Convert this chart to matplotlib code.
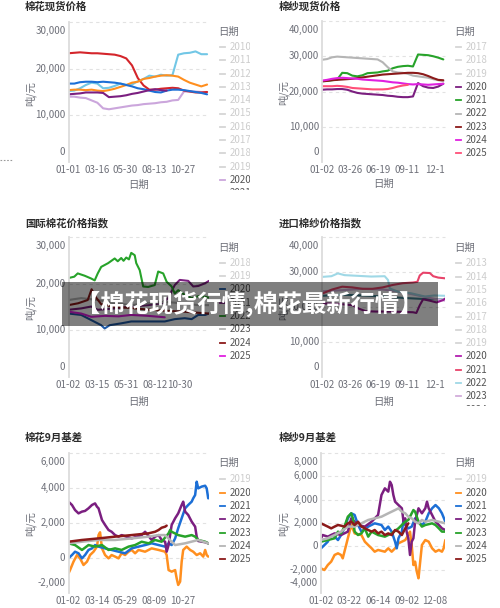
import numpy as np
import matplotlib
matplotlib.use("Agg")
import matplotlib.pyplot as plt
from matplotlib.lines import Line2D
from matplotlib.patches import Rectangle
from matplotlib.transforms import Bbox, TransformedBbox

plt.rcParams['font.family'] = ['Noto Sans CJK SC', 'DejaVu Sans']

# ------------------------------------------------------------------ data
# Panel 1: 棉花现货价格 (days of year, yuan/ton)
p1_days = [0, 15, 30, 45, 60, 75, 90, 105, 120, 135, 150, 165, 180, 195, 210, 225,
           240, 255, 270, 285, 300, 315, 330, 345, 360]
p1_2020 = [14000, 14000, 13800, 13700, 13200, 12700, 11500, 11300, 11500, 11700, 11900, 12100,
           12200, 12400, 12500, 12600, 12800, 12900, 13200, 13300, 15100, 15100, 15100, 15000, 15000]
p1_2021 = [15200, 15300, 15800, 16500, 17000, 16800, 15800, 15900, 16300, 16800, 16500, 16600,
           17300, 17800, 18500, 18300, 18700, 18500, 18600, 23000, 23300, 23400, 23700, 23100, 23100]
p1_2022 = [23300, 23400, 23500, 23400, 23300, 23300, 23200, 23100, 23000, 22700, 22200, 20700,
           18000, 16400, 15500, 15500, 15700, 15800, 15900, 15800, 15300, 15100, 14900, 14900, 15000]
p1_2023 = [15400, 15500, 15500, 15400, 15500, 15300, 15200, 15400, 15700, 16100, 16500, 17000,
           17200, 17800, 18000, 18300, 18500, 18600, 18500, 18300, 17600, 17000, 16600, 16200, 16600]
p1_2024 = [16800, 16800, 17100, 17200, 17200, 17100, 17200, 17100, 17000, 16800, 16500, 16200,
           15800, 15600, 15300, 15000, 14900, 15300, 15500, 15500, 15400, 15200, 15000, 14800, 14500]
p1_2025 = [14500, 14600, 14700, 14900, 14900, 14900, 14800, 13900, 14000, 14100, 14300, 14600,
           14800, 15100, 15400, 15600, 15400, 15300]

# Panel 2: 棉纱现货价格
p2_days = p1_days
p2_2020 = [20500, 20600, 20600, 20700, 20700, 20500, 20000, 19600, 19400, 19300, 19200, 19100,
           19000, 18800, 18700, 18500, 18400, 18400, 18600, 22400, 21500, 21100, 21000, 21400, 22200]
p2_2021 = [22900, 23000, 23200, 23400, 25300, 25200, 24500, 24300, 24600, 25200, 25300, 25400,
           25700, 25900, 26600, 27000, 27200, 27300, 27100, 30500, 30400, 30300, 30000, 29600, 29100]
p2_2022 = [29000, 29200, 29700, 29900, 29800, 29700, 29600, 29500, 29400, 29300, 29200, 29100,
           28300, 26900, 25700, 25400, 25300, 25000, 24500, 24300, 24100, 23900, 23500, 23200, 22900]
p2_2023 = [22900, 23000, 23200, 23300, 23400, 23500, 23600, 23800, 24000, 24200, 24400, 24600,
           24800, 24900, 25000, 25100, 25200, 25300, 25300, 25200, 24900, 24400, 23800, 23300, 23200]
p2_2024 = [23100, 23300, 23600, 23800, 23900, 23800, 23700, 23600, 23400, 23300, 23200, 23100,
           23000, 22800, 22600, 22500, 22300, 22100, 22000, 22100, 22000, 21900, 22000, 22100, 22200]
p2_2025 = [21500, 21500, 21500, 21600, 21500, 21300, 21000, 20900, 20800, 20700, 20600, 20600,
           20600, 20700, 21000, 21400, 21700, 21900]

# Panel 3: 国际棉花价格指数
p3_2020_d = [0, 33, 59, 85, 94, 107, 137, 163, 207, 250, 276, 302, 320, 337, 355, 365]
p3_2020_v = [13600, 13300, 12200, 11100, 10400, 11100, 11500, 11900, 11900, 11900, 12400, 12600,
             12400, 13300, 13300, 13600]
p3_2021_d = [0, 33, 59, 76, 120, 163, 207, 242, 259, 276, 289, 311, 324, 337, 355, 365]
p3_2021_v = [14400, 14700, 15100, 14400, 14700, 15100, 15400, 15800, 16900, 19700, 20800, 20600,
             19400, 19500, 20100, 20600]
p3_2022_d = [0, 15, 24, 42, 59, 68, 76, 85, 103, 120, 128, 137, 143, 150, 157, 163, 172, 176, 185,
             194, 207, 224, 233, 246, 255, 268, 276, 285, 302, 320, 337, 355, 365]
p3_2022_v = [21200, 21500, 22200, 21700, 21100, 20700, 22200, 23600, 24400, 25400, 24800, 25500,
             24900, 25600, 25200, 26600, 26100, 24400, 22900, 19400, 19300, 19700, 22600, 22200,
             20400, 19400, 17900, 18600, 17600, 16900, 17300, 17200, 17000]
p3_2023_d = [0, 33, 76, 120, 163, 207, 250, 294, 337, 365]
p3_2023_v = [16500, 16900, 16500, 15800, 15400, 15800, 16100, 15800, 15400, 15400]
p3_2024_d = [0, 25, 50, 60, 70, 85, 120, 160, 200, 250, 300, 330, 365]
p3_2024_v = [15400, 15800, 16500, 18800, 17200, 15600, 15000, 14800, 14500, 14200, 14000, 13800, 13600]
p3_2025_d = [0, 33, 59, 94, 130, 163, 207, 250]
p3_2025_v = [14000, 13600, 12900, 13100, 13000, 13300, 13100, 12800]

# Panel 4: 进口棉纱价格指数
p4_2020_d = [0, 30, 60, 90, 110, 130, 160, 200, 240, 270, 280, 290, 300, 320, 340, 360, 365]
p4_2020_v = [21000, 21000, 20800, 20500, 19500, 18800, 18700, 18700, 18600, 18500, 18300, 20500,
             22200, 21800, 21300, 22000, 22400]
p4_2021_d = [0, 30, 60, 90, 120, 150, 180, 210, 240, 270, 283, 290, 300, 320, 330, 345, 365]
p4_2021_v = [23800, 25000, 25800, 25600, 25200, 25200, 25600, 26300, 26800, 27000, 27200, 29000,
             29800, 29700, 28800, 28400, 28200]
p4_2022_d = [0, 28, 47, 67, 107, 146, 186, 196, 201, 225, 265, 305, 334, 365]
p4_2022_v = [28600, 28800, 29600, 29100, 28900, 28700, 28800, 27700, 25300, 24400, 23900, 23000,
             23300, 23200]
p4_2023_d = [0, 60, 120, 180, 220, 260, 300, 340, 365]
p4_2023_v = [24500, 24800, 25200, 25000, 24500, 23800, 23000, 22200, 21800]
p4_2024_d = [0, 60, 120, 180, 240, 300, 365]
p4_2024_v = [23200, 23500, 23300, 23000, 22600, 22300, 22100]

# Panel 5: 棉花9月基差
p5_2020_d = [0, 4, 13, 22, 30, 39, 48, 56, 65, 74, 78, 82, 87, 95, 104, 112, 121, 130, 138, 147,
             156, 164, 173, 182, 199, 216, 234, 251, 255, 260, 268, 277, 281, 285, 290, 294, 298,
             307, 316, 324, 333, 342, 350, 355, 359, 363]
p5_2020_v = [-880, -690, -210, 170, -20, -400, -210, 170, 360, 650, 1310, 1470, 550, 170, -20, 170,
             80, -20, 270, 170, 360, 460, 270, 460, 360, 550, 460, 360, 170, -690, -780, -690,
             -1160, -1540, -1350, -210, 460, 650, 460, 360, 170, 270, 80, 460, 170, 80]
p5_2021_d = [0, 9, 17, 26, 35, 43, 52, 61, 69, 78, 95, 112, 130, 147, 164, 182, 199, 216, 234,
             251, 260, 268, 277, 285, 294, 303, 311, 320, 324, 329, 333, 337, 346, 355, 359, 363]
p5_2021_v = [-20, 170, 360, 270, -20, 170, 460, 550, 740, 650, 550, 460, 360, 270, 550, 650, 740,
             840, 740, 650, 840, 740, 1120, 1700, 2270, 2840, 3030, 3220, 3410, 3600, 4360, 3980,
             4080, 4130, 3980, 3410]
p5_2022_d = [0, 9, 17, 26, 35, 43, 52, 61, 69, 74, 78, 87, 95, 104, 112, 121, 130, 138, 164, 190,
             199, 216, 225, 234, 242, 251, 255, 260, 268, 277, 285, 294, 298, 303, 311, 320, 329,
             333, 337, 355, 363]
p5_2022_v = [3220, 3030, 2740, 2550, 2650, 2690, 2840, 3030, 3120, 2930, 2840, 2170, 1890, 1600,
             1500, 1310, 1220, 1310, 1120, 1310, 1500, 1030, 1220, 1310, 1030, 930, 360, 740, 1890,
             2270, 2550, 3030, 3220, 2650, 2460, 2080, 1790, 1220, 970, 900, 840]
p5_2023_d = [0, 17, 35, 52, 69, 87, 104, 121, 138, 156, 173, 190, 208, 225, 242, 260, 264, 268,
             285, 303, 320, 329, 337, 355, 363]
p5_2023_v = [840, 740, 460, 740, 650, 740, 460, 550, 460, 650, 740, 930, 840, 1030, 930, 1410,
             1600, 1500, 1310, 1220, 1310, 1220, 1030, 930, 840]
p5_2024_d = [0, 35, 78, 121, 164, 208, 234, 251, 268, 277, 303, 337, 355, 363]
p5_2024_v = [840, 930, 1030, 1030, 1120, 1220, 1310, 1310, 930, 740, 840, 1030, 900, 840]
p5_2025_d = [0, 35, 78, 121, 164, 208, 225, 234, 242, 251, 255]
p5_2025_v = [930, 1030, 1120, 1220, 1310, 1410, 1500, 1600, 1730, 1790, 1850]

# Panel 6: 棉纱9月基差
p6_2020_d = [0, 10, 20, 30, 40, 50, 59, 64, 69, 74, 79, 84, 89, 99, 119, 129, 139, 149, 158, 168,
             188, 198, 208, 218, 228, 238, 248, 257, 262, 267, 272, 277, 282, 287, 292, 297, 307,
             317, 327, 337, 347, 356, 361, 366]
p6_2020_v = [-1890, -2030, -1600, -1310, -740, -600, -740, -1030, -460, 110, 690, 1260, 1830,
             1110, 970, 400, 110, -170, -460, -310, -460, -170, -460, -170, 260, 400, 540, 970,
             1260, 110, -1600, -1310, -2170, -2740, -1310, 110, 540, 400, -170, -460, -310, -460,
             -170, 540]
p6_2021_d = [0, 10, 20, 30, 40, 50, 59, 69, 79, 89, 99, 109, 119, 139, 158, 178, 188, 198, 208,
             218, 223, 228, 238, 243, 248, 257, 267, 277, 287, 297, 307, 317, 327, 337, 347, 356, 366]
p6_2021_v = [-170, 110, 400, 970, 830, 540, 970, 1540, 2400, 2830, 2690, 1830, 1260, 1690, 1970,
             1830, 1400, 1690, 1260, 400, -170, 690, 1260, 2260, 1830, 1540, 1690, 2400, 2110,
             1830, 2110, 2830, 3260, 3540, 3260, 2830, 2110]
p6_2022_d = [0, 5, 20, 40, 59, 79, 89, 99, 109, 129, 149, 168, 178, 188, 198, 203, 208, 213, 218,
             228, 238, 243, 248, 252, 257, 262, 267, 272, 277, 287, 297, 307, 312, 317, 327, 337,
             347, 356, 366]
p6_2022_v = [690, 970, 830, 1110, 970, 1260, 2400, 2110, 1830, 1690, 2110, 2690, 4400, 4970, 4690,
             5540, 5260, 4400, 3830, 3540, 3260, 2110, 2400, 1260, 690, -740, 400, 690, 2110,
             3260, 2830, 3260, 3830, 3260, 2690, 2110, 1830, 1540, 1400]
p6_2023_d = [0, 20, 40, 50, 59, 69, 79, 89, 94, 99, 109, 119, 129, 139, 149, 168, 188, 208, 228,
             238, 248, 257, 267, 272, 277, 287, 297, 307, 327, 337, 347, 356, 366]
p6_2023_v = [400, 540, 690, 1260, 1110, 1690, 2540, 2830, 2400, 1260, 970, 1110, 1540, 830, 1260,
             970, 830, 1110, 1540, 1830, 2110, 2260, 2830, 3110, 2970, 2110, 1690, 1830, 1970,
             1830, 1540, 1260, 1260]
p6_2024_d = [0, 20, 40, 59, 79, 99, 119, 139, 158, 178, 198, 218, 228, 238, 248, 257, 267, 277,
             287, 297, 307, 327, 347, 366]
p6_2024_v = [540, 690, 970, 1260, 1690, 1690, 1970, 2260, 2400, 2540, 2830, 3110, 3260, 2970,
             2830, 2540, 2400, 2110, 1970, 2260, 2110, 2260, 2110, 1970]
p6_2025_d = [0, 10, 20, 30, 40, 50, 59, 69, 79, 89, 99, 109, 119, 129, 139, 149, 158, 168, 178,
             188, 198, 208, 218, 228, 238, 248, 257]
p6_2025_v = [1970, 1830, 1690, 1540, 1690, 1830, 1770, 1690, 1970, 2110, 1830, 2110, 1690, 1540,
             1400, 1260, 1400, 1110, 1260, 970, 1110, 970, 1400, 1260, 970, 1540, 1970]

# tick labels
x_ticks_a = [0, 74, 148, 222, 296]
x_ticks_b = [1, 84, 168, 252, 336]
p1_xlabels = ['01-01', '03-16', '05-30', '08-13', '10-27']
p2_xlabels = ['01-02', '03-26', '06-19', '09-11', '12-1']
p3_xlabels = ['01-02', '03-15', '05-31', '08-12', '10-30']
p4_xlabels = ['01-02', '03-26', '06-19', '09-11', '12-1']
p5_xlabels = ['01-02', '03-14', '05-29', '08-09', '10-27']
p6_xlabels = ['01-02', '03-22', '06-14', '09-02', '12-08']

# ------------------------------------------------------------------ colours
C_RED = '#d4252b'; C_CYAN = '#72c7e6'; C_ORANGE = '#ff8f1f'; C_BLUE = '#1c6fd6'
C_PURPLE = '#7b1f80'; C_LAV = '#cba6dc'; C_GREEN = '#27a32a'; C_GRAY = '#b5b5b5'
C_DRED = '#8b1a1a'; C_MAG = '#e020e0'; C_PINK = '#ff4f78'; C_DBLUE = '#1f5aa6'
C_CRIMSON = '#e8436a'; C_LCYAN = '#9fd8e6'; C_LLAV = '#d2addb'; C_TEAL = '#3f7f8e'
C_VIOLET = '#93198f'

W, H = 500, 608
fig = plt.figure(figsize=(W / 100, H / 100), dpi=100)
fig.patch.set_facecolor('white')


def fx(px):
    return px / W


def fy(py):
    return 1 - py / H


TICK_C = '#6E7079'


def make_axes(l, r, t, b):
    return fig.add_axes([fx(l), fy(b), (r - l) / W, (b - t) / H])


def style(ax, ylim, yticks, xticks, xlabels):
    ax.set_xlim(0, 365)
    ax.set_ylim(*ylim)
    ax.set_facecolor('none')
    for s in ('top', 'right', 'bottom'):
        ax.spines[s].set_visible(False)
    ax.spines['left'].set_color('#dcdcdc')
    ax.spines['left'].set_linewidth(1.3)
    ax.set_yticks([])
    n = len(yticks)
    for i, v in enumerate(yticks):
        if i > 0:
            ax.axhline(v, color='#e2e2e2', lw=0.8, ls=(0, (3, 3)), zorder=0, clip_on=False)
        dy = 10 if i == 0 else (-8.5 if i == n - 1 else 0)
        ax.annotate(f'{v:,}', xy=(0, v), xycoords=('axes fraction', 'data'),
                    xytext=(-3, dy), textcoords='offset pixels', ha='right', va='center',
                    fontsize=7, color=TICK_C, annotation_clip=False)
    ax.set_xticks(xticks)
    ax.set_xticklabels(xlabels)
    ax.tick_params(axis='x', length=0, pad=2.5, labelsize=7, labelcolor=TICK_C)


def line(ax, d, v, c, lw=1.5):
    ax.plot(d, v, color=c, lw=lw, solid_joinstyle='round', solid_capstyle='round')


def legend(xt, yt, xd, xtext, y0, entries, clip_right=None, clip_bottom=None):
    fig.text(fx(xt), fy(yt), '日期', fontsize=7.5, color=TICK_C, ha='left', va='center')
    bb = None
    if clip_right or clip_bottom:
        bb = TransformedBbox(Bbox([[0, fy(clip_bottom or H)], [fx(clip_right or W), 1]]),
                             fig.transFigure)
    for i, (lab, col) in enumerate(entries):
        y = y0 + i * 13.3
        dc = col if col else '#d6d6d6'
        tc = '#555555' if col else '#cdcdcd'
        ln = Line2D([fx(xd), fx(xd + 5)], [fy(y), fy(y)], transform=fig.transFigure,
                    color=dc, lw=1.3)
        fig.add_artist(ln)
        t = fig.text(fx(xtext), fy(y), lab, fontsize=7, color=tc, ha='left', va='center')
        if bb is not None:
            t.set_clip_box(bb); t.set_clip_on(True)
            ln.set_clip_box(bb); ln.set_clip_on(True)


def title(x, y, s):
    fig.text(fx(x), fy(y), s, fontsize=7.5, fontweight='bold', color='#2b2b2b',
             ha='left', va='center')


def ylab(x, y):
    fig.text(fx(x), fy(y), '吨/元', fontsize=7.5, color=TICK_C, rotation=90,
             ha='center', va='center')


def xlab(x, y):
    fig.text(fx(x), fy(y), '日期', fontsize=7.5, color=TICK_C, ha='center', va='center')


LX0, LX1, RX0, RX1 = 68.5, 209, 322, 445

# ---------------- Panel 1
ax1 = make_axes(LX0, LX1, 22, 162)
style(ax1, (0, 30000), [0, 10000, 20000, 30000], x_ticks_a, p1_xlabels)
line(ax1, p1_days, p1_2020, C_LAV)
line(ax1, p1_days, p1_2021, C_CYAN)
line(ax1, p1_days, p1_2022, C_RED)
line(ax1, p1_days, p1_2023, C_ORANGE)
line(ax1, p1_days, p1_2024, C_BLUE)
line(ax1, p1_days[:len(p1_2025)], p1_2025, C_PURPLE)
title(25, 7, '棉花现货价格')
ylab(30, 94)
xlab(139, 185)
legend(218, 32, 220, 230, 47,
       [(str(y), None) for y in range(2010, 2020)] + [('2020', C_LAV), ('2021', C_CYAN)],
       clip_right=250, clip_bottom=190)

# ---------------- Panel 2
ax2 = make_axes(RX0, RX1, 21, 162)
style(ax2, (0, 40000), [0, 10000, 20000, 30000, 40000], x_ticks_b, p2_xlabels)
line(ax2, p2_days, p2_2020, C_PURPLE)
line(ax2, p2_days, p2_2021, C_GREEN)
line(ax2, p2_days, p2_2022, C_GRAY)
line(ax2, p2_days, p2_2023, C_DRED)
line(ax2, p2_days, p2_2024, C_MAG)
line(ax2, p2_days[:len(p2_2025)], p2_2025, C_PINK)
title(279, 7, '棉纱现货价格')
ylab(283, 93)
xlab(384, 184)
legend(454, 32, 456, 466, 47,
       [('2017', None), ('2018', None), ('2019', None), ('2020', C_PURPLE), ('2021', C_GREEN),
        ('2022', C_GRAY), ('2023', C_DRED), ('2024', C_MAG), ('2025', C_PINK)])

# ---------------- Panel 3
ax3 = make_axes(LX0, LX1, 237, 377)
style(ax3, (0, 30000), [0, 10000, 20000, 30000], [0, 75, 149, 224, 289], p3_xlabels)
line(ax3, p3_2020_d, p3_2020_v, C_DBLUE)
line(ax3, p3_2021_d, p3_2021_v, C_PURPLE)
line(ax3, p3_2022_d, p3_2022_v, C_GREEN)
line(ax3, p3_2023_d, p3_2023_v, C_GRAY)
line(ax3, p3_2024_d, p3_2024_v, C_DRED)
line(ax3, p3_2025_d, p3_2025_v, C_MAG)
title(25, 223, '国际棉花价格指数')
ylab(30, 308)
xlab(139, 402)
legend(218, 248, 220, 230, 262.7,
       [('2018', None), ('2019', None), ('2020', C_DBLUE), ('2021', C_PURPLE),
        ('2022', C_GREEN), ('2023', C_GRAY), ('2024', C_DRED), ('2025', C_MAG)],
       clip_right=250)

# ---------------- Panel 4
ax4 = make_axes(RX0, RX1, 237, 377)
style(ax4, (0, 40000), [0, 10000, 20000, 30000, 40000], x_ticks_b, p4_xlabels)
line(ax4, p4_2024_d, p4_2024_v, C_TEAL)
line(ax4, p4_2023_d, p4_2023_v, C_LLAV)
line(ax4, p4_2022_d, p4_2022_v, C_LCYAN)
line(ax4, p4_2021_d, p4_2021_v, C_CRIMSON)
line(ax4, p4_2020_d, p4_2020_v, C_VIOLET)
title(279, 223, '进口棉纱价格指数')
ylab(283, 308)
xlab(384, 402)
legend(454, 248, 456, 466, 263.3,
       [(str(y), None) for y in range(2013, 2020)] +
       [('2020', '#b21fb0'), ('2021', C_CRIMSON), ('2022', C_LCYAN), ('2023', C_LLAV),
        ('2024', C_TEAL)],
       clip_bottom=406)

# ---------------- Panel 5
ax5 = make_axes(LX0, LX1, 453, 593)
style(ax5, (-2000, 6000), [-2000, 0, 2000, 4000, 6000], x_ticks_a, p5_xlabels)
line(ax5, p5_2020_d, p5_2020_v, C_ORANGE, 1.8)
line(ax5, p5_2021_d, p5_2021_v, C_BLUE, 1.8)
line(ax5, p5_2022_d, p5_2022_v, C_PURPLE, 1.8)
line(ax5, p5_2023_d, p5_2023_v, C_GREEN, 1.8)
line(ax5, p5_2024_d, p5_2024_v, C_GRAY, 1.8)
line(ax5, p5_2025_d, p5_2025_v, C_DRED, 1.8)
title(25, 438, '棉花9月基差')
ylab(30, 524)
legend(218, 463.3, 220, 230, 479.3,
       [('2019', None), ('2020', C_ORANGE), ('2021', C_BLUE), ('2022', C_PURPLE),
        ('2023', C_GREEN), ('2024', C_GRAY), ('2025', C_DRED)],
       clip_right=250)

# ---------------- Panel 6
ax6 = make_axes(321, RX1, 453, 593)
style(ax6, (-4000, 8000), [-4000, -2000, 0, 2000, 4000, 6000, 8000], x_ticks_b, p6_xlabels)
line(ax6, p6_2020_d, p6_2020_v, C_ORANGE, 1.8)
line(ax6, p6_2021_d, p6_2021_v, C_BLUE, 1.8)
line(ax6, p6_2022_d, p6_2022_v, C_PURPLE, 1.8)
line(ax6, p6_2023_d, p6_2023_v, C_GREEN, 1.8)
line(ax6, p6_2024_d, p6_2024_v, C_GRAY, 1.8)
line(ax6, p6_2025_d, p6_2025_v, C_DRED, 1.8)
title(279, 438, '棉纱9月基差')
ylab(283, 524)
legend(454, 463.3, 456, 466, 479.3,
       [('2019', None), ('2020', C_ORANGE), ('2021', C_BLUE), ('2022', C_PURPLE),
        ('2023', C_GREEN), ('2024', C_GRAY), ('2025', C_DRED)])

# small dotted artefact at the far left
fig.add_artist(Line2D([0, fx(13)], [fy(160), fy(160)], transform=fig.transFigure,
                      color='#9a9a9a', lw=0.8, ls=(0, (1.5, 1.5))))

# watermark banner
fig.add_artist(Rectangle((fx(62), fy(326)), (438 - 62) / W, (326 - 282) / H,
                         transform=fig.transFigure, facecolor='black', alpha=0.5,
                         edgecolor='none', zorder=10))
fig.text(fx(250), fy(304), '【棉花现货行情,棉花最新行情】', fontsize=17.5, fontweight='bold',
         color='white', ha='center', va='center', zorder=11)

fig.savefig('out.png', dpi=100)
